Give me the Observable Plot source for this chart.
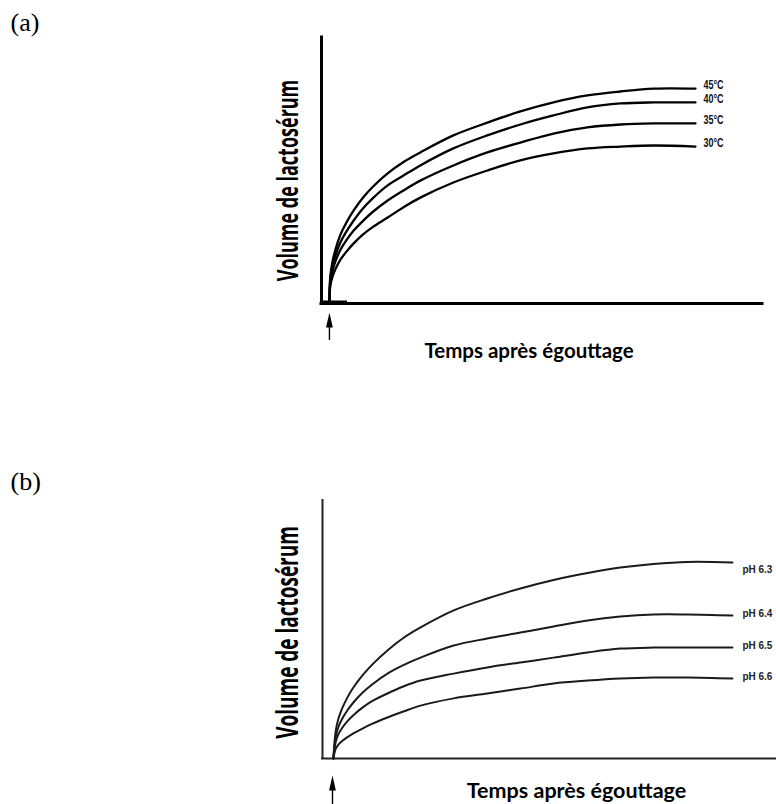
<!DOCTYPE html>
<html><head><meta charset="utf-8">
<script src="https://cdn.jsdelivr.net/npm/d3@7"></script>
<script src="https://cdn.jsdelivr.net/npm/@observablehq/plot@0.6"></script>
<style>
body{margin:0;background:#fff}
#wrap{position:relative;width:776px;height:804px;overflow:hidden}
.panel{position:absolute;left:0}
</style>
</head><body>
<div id="wrap"><div id="pa" class="panel" style="top:0"></div><div id="pb" class="panel" style="top:400px"></div></div>
<script>
// ---------- data (arbitrary units: time 0-100, volume 0-100) ----------
const panelLabels = ["(a)", "(b)"];
const yTitle = "Volume de lactosérum";
const xTitle = "Temps après égouttage";

// Panel (a): temperature
const timesA = [1.8, 2.0, 2.5, 3.2, 4.3, 5.7, 7.3, 9.3, 11.6, 15.0, 18.6, 22.4, 29.9, 37.6, 45.1, 52.6, 60.3, 67.8, 75.3, 84.8];
const seriesA = ["45°C", "40°C", "35°C", "30°C"];
const vol45 = [0, 10.2, 15.8, 20.5, 25.9, 30.6, 35.0, 39.6, 43.8, 48.9, 53.2, 56.8, 63.2, 68.0, 72.2, 75.6, 78.2, 79.7, 80.8, 80.8];
const vol40 = [0, 9.1, 14.0, 18.2, 23.0, 27.2, 31.2, 35.5, 39.5, 44.4, 48.1, 51.9, 58.3, 63.2, 67.3, 70.7, 73.7, 75.2, 75.6, 75.6];
const vol35 = [0, 8.0, 12.3, 16.0, 20.2, 23.9, 27.4, 30.9, 34.4, 38.7, 42.5, 46.2, 51.9, 56.8, 60.5, 63.9, 66.2, 67.3, 67.7, 67.7];
const vol30 = [0, 6.6, 10.1, 13.1, 16.5, 19.6, 22.6, 25.8, 28.7, 32.3, 36.2, 39.8, 45.5, 50.0, 53.8, 56.4, 58.3, 59.0, 59.4, 59.0];
const valuesA = [vol45, vol40, vol35, vol30];

// Panel (b): pH
const timesB = [2.4, 2.9, 3.5, 4.4, 5.5, 6.8, 8.8, 11.0, 14.3, 17.8, 21.6, 28.9, 36.3, 43.6, 50.9, 58.4, 65.6, 72.9, 80.4, 90.3];
const seriesB = ["pH 6.3", "pH 6.4", "pH 6.5", "pH 6.6"];
const volpH63 = [0, 10.5, 15.4, 19.7, 23.7, 27.5, 32.2, 36.5, 41.9, 46.7, 50.8, 57.4, 62.0, 65.9, 69.2, 71.9, 74.0, 75.4, 76.2, 76.0];
const volpH64 = [0, 8.3, 12.2, 15.6, 18.7, 21.7, 25.5, 28.8, 32.9, 36.2, 39.1, 43.8, 46.5, 48.8, 51.2, 53.5, 55.0, 55.8, 55.8, 55.4];
const volpH65 = [0, 6.4, 9.4, 12.0, 14.5, 16.8, 19.7, 22.3, 25.2, 27.9, 30.2, 32.9, 35.3, 37.2, 39.1, 41.1, 42.6, 43.0, 43.0, 43.0];
const volpH66 = [0, 3.7, 5.4, 6.9, 8.3, 9.7, 11.6, 13.5, 15.9, 18.2, 20.5, 23.3, 25.2, 27.1, 29.1, 30.2, 31.0, 31.4, 31.4, 31.0];
const valuesB = [volpH63, volpH64, volpH65, volpH66];

// drainage-start arrows (time, tip, head base, tail), in the same units
const arrowA = [{t: 1.8, tip: -3.4, base: -9.0, tail: -13.9}];
const arrowB = [{t: 2.2, tip: -6.6, base: -12.4, tail: -18.5}];
const startBarA = [{x1: 0, x2: 5.9}];

// ---------- helpers ----------
const rows = (times, names, values) =>
  names.flatMap((s, i) => times.map((t, j) => ({series: s, t, v: values[i][j]})));
const lastRows = (times, names, values) =>
  names.map((s, i) => ({series: s, t: times[times.length - 1], v: values[i][values[i].length - 1]}));

const arrowHead = {draw(ctx) { ctx.moveTo(0, -7.5); ctx.lineTo(3.4, 7.5); ctx.lineTo(-3.4, 7.5); ctx.closePath(); }};

function postProcess(svg, seriesNames, labelScale) {
  svg.querySelectorAll("text").forEach(t => {
    const tr = t.getAttribute("transform") || "";
    if (t.textContent === yTitle) t.setAttribute("transform", tr + " scale(1,1.6)");
    else if (seriesNames.includes(t.textContent)) t.setAttribute("transform", tr + " " + labelScale);
  });
}

const baseStyle = {background: "#fff", color: "#000", overflow: "visible"};

// ---------- panel (a) ----------
const dataA = rows(timesA, seriesA, valuesA);
const endA = lastRows(timesA, seriesA, valuesA);
const plotA = Plot.plot({
  width: 776, height: 400,
  marginLeft: 321, marginRight: 14, marginTop: 37, marginBottom: 97,
  style: baseStyle,
  x: {domain: [0, 100], axis: null},
  y: {domain: [0, 100], axis: null},
  marks: [
    Plot.ruleX([0], {stroke: "#000", strokeWidth: 3, strokeLinecap: "square"}),
    Plot.ruleY([0], {stroke: "#000", strokeWidth: 3, strokeLinecap: "square"}),
    Plot.ruleY(startBarA, {y: 0, x1: "x1", x2: "x2", stroke: "#000", strokeWidth: 4, dy: -1}),
    Plot.line(dataA, {x: "t", y: "v", z: "series", stroke: "#000", strokeWidth: 2.3, curve: "catmull-rom"}),
    Plot.text(endA, {x: "t", y: "v", text: "series", dx: 8, dy: -3, textAnchor: "start",
      fontFamily: "'Liberation Sans Narrow', 'Liberation Sans', Arial, sans-serif", fontWeight: "bold", fontSize: 11, fill: "#111"}),
    Plot.ruleX(arrowA, {x: "t", y1: "base", y2: "tail", stroke: "#000", strokeWidth: 1.4}),
    Plot.dot(arrowA, {x: "t", y: d => (d.tip + d.base) / 2, symbol: arrowHead, r: 1, fill: "#000", stroke: "none"}),
    Plot.text([panelLabels[0]], {frameAnchor: "top-left", dx: -311, dy: -7, lineAnchor: "bottom", textAnchor: "start",
      fontFamily: "'Liberation Serif', 'Times New Roman', serif", fontSize: 26, fill: "#000"}),
    Plot.text([yTitle], {frameAnchor: "left", dx: -33, dy: 10, rotate: -90, textAnchor: "middle", lineAnchor: "middle",
      fontFamily: "'Open Sans', sans-serif", fontWeight: "bold", fontSize: 18, fill: "#000"}),
    Plot.text([xTitle], {frameAnchor: "bottom", dx: -13, dy: 54, lineAnchor: "bottom", textAnchor: "middle",
      fontFamily: "Lato, 'Open Sans', sans-serif", fontWeight: "bold", fontSize: 20.5, fill: "#000"})
  ]
});
postProcess(plotA, seriesA, "scale(0.82,1.1)");
document.getElementById("pa").append(plotA);

// ---------- panel (b) ----------
const dataB = rows(timesB, seriesB, valuesB);
const endB = lastRows(timesB, seriesB, valuesB);
const labelFontB = {fontFamily: "'Liberation Sans', Arial, sans-serif", fontWeight: "bold", fontSize: 10.5, fill: "#222"};
const plotB = Plot.plot({
  width: 776, height: 404,
  marginLeft: 322, marginRight: 0, marginTop: 100, marginBottom: 46,
  style: baseStyle,
  x: {domain: [0, 100], axis: null},
  y: {domain: [0, 100], axis: null},
  marks: [
    Plot.ruleX([0], {stroke: "#222", strokeWidth: 2, strokeLinecap: "square"}),
    Plot.ruleY([0], {stroke: "#222", strokeWidth: 2, strokeLinecap: "square"}),
    Plot.line(dataB, {x: "t", y: "v", z: "series", stroke: "#1a1a1a", strokeWidth: 2, curve: "catmull-rom"}),
    Plot.text(endB.slice(0, 1), {x: "t", y: "v", text: "series", dx: 10, dy: 7, textAnchor: "start", ...labelFontB}),
    Plot.text(endB.slice(1), {x: "t", y: "v", text: "series", dx: 10, dy: -2, textAnchor: "start", ...labelFontB}),
    Plot.ruleX(arrowB, {x: "t", y1: "base", y2: "tail", stroke: "#000", strokeWidth: 1.4}),
    Plot.dot(arrowB, {x: "t", y: d => (d.tip + d.base) / 2, symbol: arrowHead, r: 1, fill: "#000", stroke: "none"}),
    Plot.text([panelLabels[1]], {frameAnchor: "top-left", dx: -312, dy: -11, lineAnchor: "bottom", textAnchor: "start",
      fontFamily: "'Liberation Serif', 'Times New Roman', serif", fontSize: 26, fill: "#000"}),
    Plot.text([yTitle], {frameAnchor: "left", dx: -34, dy: 3, rotate: -90, textAnchor: "middle", lineAnchor: "middle",
      fontFamily: "'Open Sans', sans-serif", fontWeight: "bold", fontSize: 19, fill: "#000"}),
    Plot.text([xTitle], {frameAnchor: "bottom", dx: 27, dy: 39, lineAnchor: "bottom", textAnchor: "middle",
      fontFamily: "Lato, 'Open Sans', sans-serif", fontWeight: "bold", fontSize: 21.5, fill: "#000"})
  ]
});
postProcess(plotB, seriesB, "scale(0.95,1.1)");
document.getElementById("pb").append(plotB);
</script>
</body></html>
